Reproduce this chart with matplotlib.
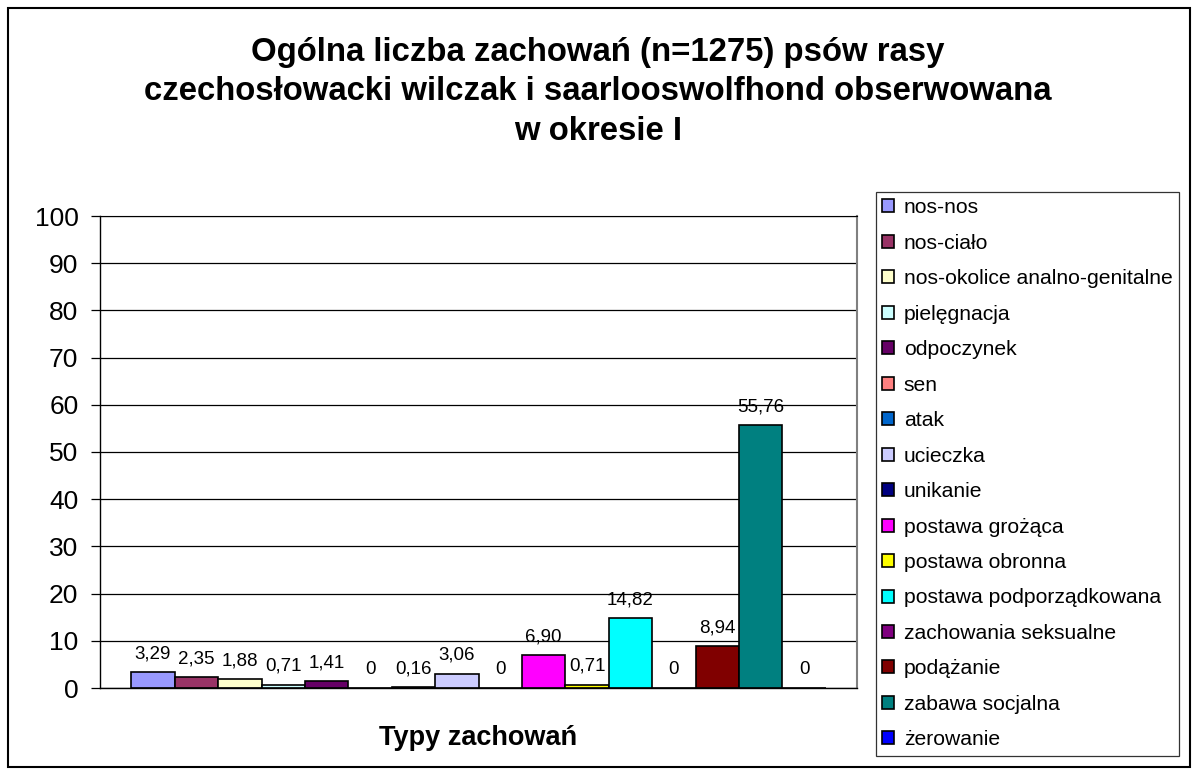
import matplotlib.pyplot as plt
from matplotlib.patches import Rectangle

plt.rcParams['font.family'] = ['Liberation Sans', 'DejaVu Sans']

# typy zachowan i ich udzial procentowy
zachowania = ["nos-nos", "nos-ciało", "nos-okolice analno-genitalne", "pielęgnacja",
              "odpoczynek", "sen", "atak", "ucieczka", "unikanie", "postawa grożąca",
              "postawa obronna", "postawa podporządkowana", "zachowania seksualne",
              "podążanie", "zabawa socjalna", "żerowanie"]
wartosci = [3.29, 2.35, 1.88, 0.71, 1.41, 0, 0.16, 3.06, 0, 6.90, 0.71, 14.82, 0, 8.94, 55.76, 0]
kolory = ["#9999FF", "#993366", "#FFFFCC", "#CCFFFF", "#660066", "#FF8080", "#0066CC",
          "#CCCCFF", "#000080", "#FF00FF", "#FFFF00", "#00FFFF", "#800080", "#800000",
          "#008080", "#0000FF"]
y_ticks = [0, 10, 20, 30, 40, 50, 60, 70, 80, 90, 100]

W, H = 1192, 774
fig = plt.figure(figsize=(W / 100, H / 100), dpi=100)
ax = fig.add_axes([100/W, 1 - 688/H, 757/W, 472/H])

n = len(wartosci)
for i, (ime, v, c) in enumerate(zip(zachowania, wartosci, kolory)):
    ax.bar(i, v, width=1.0, color=c, edgecolor="black", linewidth=1.2, label=ime)
    txt = "0" if v == 0 else ("%.2f" % v).replace(".", ",")
    ax.annotate(txt, (i, v), xytext=(0, 7), textcoords="offset points",
                ha="center", va="bottom", fontsize=13.5)

# prazen prostor levo in desno od stolpcev
rob = (757 / 43.4 - n) / 2
ax.set_xlim(-0.5 - rob, n - 0.5 + rob)
ax.set_ylim(0, 100)
ax.set_yticks(y_ticks)
ax.set_yticklabels([str(t) for t in y_ticks], fontsize=19)
ax.set_xticks([])
ax.yaxis.grid(True, color="black", linewidth=0.9)
ax.set_axisbelow(True)
ax.tick_params(axis="y", direction="out", length=6.5, width=0.9, pad=9)
ax.spines["top"].set_color("black")
ax.spines["right"].set_color("gray")
ax.spines["right"].set_linewidth(1.5)
for s in ["left", "bottom"]:
    ax.spines[s].set_color("black")
    ax.spines[s].set_linewidth(1)

fig.text(478/W, 1 - 738/H, "Typy zachowań", ha="center", va="center",
         fontsize=19.5, fontweight="bold")

fig.text(598/W, 1 - 92/H,
         "Ogólna liczba zachowań (n=1275) psów rasy\nczechosłowacki wilczak i saarlooswolfhond obserwowana\nw okresie I",
         ha="center", va="center", fontsize=23.7, fontweight="bold", linespacing=1.36)

leg = fig.legend(loc="upper left", bbox_to_anchor=(876/W, 1 - 192/H), fontsize=15.2,
                 frameon=True, fancybox=False, edgecolor="black", handlelength=0.57,
                 handleheight=0.57, handletextpad=0.45, labelspacing=0.78, borderpad=0.3,
                 borderaxespad=0)
leg.get_frame().set_linewidth(0.9)

fig.patches.append(Rectangle((8/W, 1 - 767/H), 1182/W, 759/H, transform=fig.transFigure,
                             fill=False, edgecolor="black", linewidth=1.5))

fig.savefig("out.png", dpi=100)
